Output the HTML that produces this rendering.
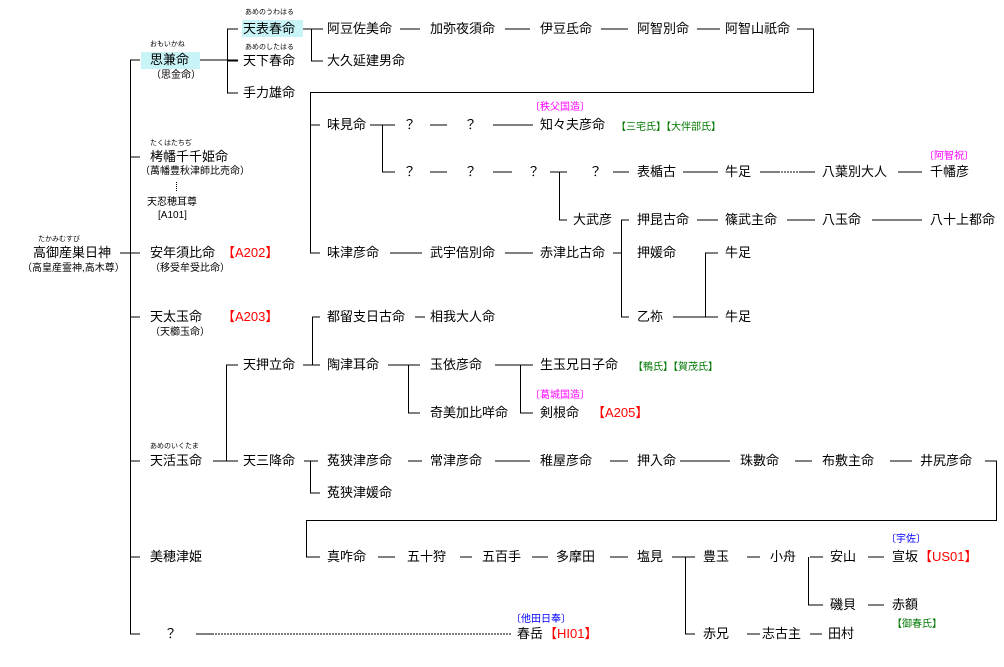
<!DOCTYPE html>
<html><head><meta charset="utf-8">
<style>
html,body{margin:0;padding:0;background:#fff;}
#c{position:relative;width:1004px;height:667px;overflow:hidden;font-family:"Liberation Sans","Noto Sans CJK JP",sans-serif;color:#000;}
.t{position:absolute;font-size:13px;line-height:16px;white-space:nowrap;}
.s{position:absolute;font-size:10px;line-height:12px;white-space:nowrap;}
.f{position:absolute;font-size:7px;line-height:8px;white-space:nowrap;}
.r{color:#f00;}.g{color:#070;}.m{color:#f0f;}.b{color:#00f;}
.hl{position:absolute;background:#c8f4f8;}
svg{position:absolute;left:0;top:0;}
</style></head><body><div id="c">
<div class="hl" style="left:242px;top:20px;width:61px;height:17px"></div>
<div class="hl" style="left:141px;top:52px;width:59px;height:17px"></div>
<svg width="1004" height="667" stroke="#000" stroke-width="1" fill="none" shape-rendering="crispEdges">
<path d="M130.5 60V634M130 60H140M130 157H140M130 253H140M130 317H140M130 461H140M130 557H140M130 634H140M120 253H130"/>
<path d="M200 60H238M227.5 29V93M227 29H238M227 61H238M227 93H238"/>
<path d="M303 29H323M311.5 29V61M311 61H323"/>
<path d="M400 29H420M505 29H530M601 29H628M697 29H720M797 29H813.5V92.5H310.5V253M310 125H320M310 253H320"/>
<path d="M370 125H395M382.5 125V172M382 172H395M430 125H447M493 125H533"/>
<path d="M430 172H447M493 172H512M550 172H567M559.5 172V220M559 220H567M613 172H629M683 172H718M760 172H778M800 172H815M898 172H922"/>
<path d="M621.5 220V317M621 220H629M621 317H629M697 220H718M787 220H815M872 220H922"/>
<path d="M390 253H422M505 253H533M613 253H621M673 317H705.5V253M705 253H718M705 317H718"/>
<path d="M415 317H425M213 461H238M226.5 365V461M226 365H238M303 365H312.5V317M312 317H320M312 365H320"/>
<path d="M388 365H420M408.5 365V413M408 413H420M495 365H533M520.5 365V413M520 413H533"/>
<path d="M304 461H318M310.5 461V493M310 493H320M408 461H422M495 461H530M610 461H628M680 461H730M795 461H812M890 461H912M985 461H996.5V520.5H306.5V557M306 557H320"/>
<path d="M378 557H395M460 557H472M532 557H548M610 557H628M672 557H695M685.5 557V634M685 634H695M747 557H760M810 557H823M808.5 557V605M808 605H823M868 557H884M868 605H884"/>
<path d="M196 634H212M747 634H760M810 634H822"/>
<path d="M176.5 182V192" stroke-dasharray="1,1"/>
<path d="M778 172H800M212 634H512" stroke-dasharray="2,1"/>
</svg>
<div class="f" style="left:245px;top:9px">あめのうわはる</div>
<div class="t" style="left:243px;top:21px">天表春命</div>
<div class="f" style="left:150px;top:41px">おもいかね</div>
<div class="t" style="left:150px;top:52px">思兼命</div>
<div class="s" style="left:151px;top:70px">（思金命）</div>
<div class="f" style="left:245px;top:44px">あめのしたはる</div>
<div class="t" style="left:243px;top:53px">天下春命</div>
<div class="t" style="left:243px;top:85px">手力雄命</div>
<div class="t" style="left:327px;top:21px">阿豆佐美命</div>
<div class="t" style="left:430px;top:21px">加弥夜須命</div>
<div class="t" style="left:540px;top:21px">伊豆氐命</div>
<div class="t" style="left:637px;top:21px">阿智別命</div>
<div class="t" style="left:725px;top:21px">阿智山祇命</div>
<div class="t" style="left:327px;top:53px">大久延建男命</div>

<div class="t" style="left:327px;top:117px">味見命</div>
<div class="t" style="left:403px;top:117px">？</div>
<div class="t" style="left:464px;top:117px">？</div>
<div class="s m" style="left:530px;top:102px">〔秩父国造〕</div>
<div class="t" style="left:540px;top:117px">知々夫彦命</div>
<div class="s g" style="left:616px;top:122px">【三宅氏】【大伴部氏】</div>

<div class="t" style="left:403px;top:164px">？</div>
<div class="t" style="left:464px;top:164px">？</div>
<div class="t" style="left:527px;top:164px">？</div>
<div class="t" style="left:589px;top:164px">？</div>
<div class="t" style="left:637px;top:164px">表楯古</div>
<div class="t" style="left:725px;top:164px">牛足</div>
<div class="t" style="left:822px;top:164px">八葉別大人</div>
<div class="s m" style="left:924px;top:151px">〔阿智祝〕</div>
<div class="t" style="left:930px;top:164px">千幡彦</div>

<div class="f" style="left:150px;top:140px">たくはたちぢ</div>
<div class="t" style="left:150px;top:149px">栲幡千千姫命</div>
<div class="s" style="left:140px;top:166px">（萬幡豊秋津師比売命）</div>
<div class="s" style="left:147px;top:197px">天忍穂耳尊</div>
<div class="s" style="left:158px;top:210px">[A101]</div>

<div class="t" style="left:573px;top:212px">大武彦</div>
<div class="t" style="left:637px;top:212px">押昆古命</div>
<div class="t" style="left:725px;top:212px">篠武主命</div>
<div class="t" style="left:822px;top:212px">八玉命</div>
<div class="t" style="left:930px;top:212px">八十上都命</div>

<div class="f" style="left:38px;top:236px">たかみむすび</div>
<div class="t" style="left:33px;top:245px">高御産巣日神</div>
<div class="s" style="left:22px;top:263px">（高皇産霊神,高木尊）</div>
<div class="t" style="left:150px;top:245px">安年須比命</div>
<div class="t r" style="left:222px;top:245px">【A202】</div>
<div class="s" style="left:150px;top:263px">（移受牟受比命）</div>
<div class="t" style="left:327px;top:245px">味津彦命</div>
<div class="t" style="left:430px;top:245px">武宇倍別命</div>
<div class="t" style="left:540px;top:245px">赤津比古命</div>
<div class="t" style="left:637px;top:245px">押媛命</div>
<div class="t" style="left:725px;top:245px">牛足</div>

<div class="t" style="left:150px;top:309px">天太玉命</div>
<div class="t r" style="left:222px;top:309px">【A203】</div>
<div class="s" style="left:150px;top:327px">（天櫛玉命）</div>
<div class="t" style="left:327px;top:309px">都留支日古命</div>
<div class="t" style="left:430px;top:309px">相我大人命</div>
<div class="t" style="left:637px;top:309px">乙祢</div>
<div class="t" style="left:725px;top:309px">牛足</div>

<div class="t" style="left:243px;top:357px">天押立命</div>
<div class="t" style="left:327px;top:357px">陶津耳命</div>
<div class="t" style="left:430px;top:357px">玉依彦命</div>
<div class="t" style="left:540px;top:357px">生玉兄日子命</div>
<div class="s g" style="left:633px;top:362px">【鴨氏】【賀茂氏】</div>
<div class="s m" style="left:530px;top:390px">〔葛城国造〕</div>
<div class="t" style="left:430px;top:405px">奇美加比咩命</div>
<div class="t" style="left:540px;top:405px">剣根命</div>
<div class="t r" style="left:592px;top:405px">【A205】</div>

<div class="f" style="left:150px;top:443px">あめのいくたま</div>
<div class="t" style="left:150px;top:453px">天活玉命</div>
<div class="t" style="left:243px;top:453px">天三降命</div>
<div class="t" style="left:327px;top:453px">菟狭津彦命</div>
<div class="t" style="left:430px;top:453px">常津彦命</div>
<div class="t" style="left:540px;top:453px">稚屋彦命</div>
<div class="t" style="left:637px;top:453px">押入命</div>
<div class="t" style="left:740px;top:453px">珠數命</div>
<div class="t" style="left:822px;top:453px">布敷主命</div>
<div class="t" style="left:920px;top:453px">井尻彦命</div>
<div class="t" style="left:327px;top:485px">菟狭津媛命</div>

<div class="t" style="left:150px;top:549px">美穂津姫</div>
<div class="t" style="left:327px;top:549px">真咋命</div>
<div class="t" style="left:407px;top:549px">五十狩</div>
<div class="t" style="left:482px;top:549px">五百手</div>
<div class="t" style="left:556px;top:549px">多摩田</div>
<div class="t" style="left:637px;top:549px">塩見</div>
<div class="t" style="left:703px;top:549px">豊玉</div>
<div class="t" style="left:770px;top:549px">小舟</div>
<div class="t" style="left:830px;top:549px">安山</div>
<div class="s b" style="left:886px;top:534px">〔宇佐〕</div>
<div class="t" style="left:892px;top:549px">宣坂</div>
<div class="t r" style="left:919px;top:549px">【US01】</div>
<div class="t" style="left:830px;top:597px">磯貝</div>
<div class="t" style="left:892px;top:597px">赤額</div>
<div class="s g" style="left:892px;top:619px">【御春氏】</div>

<div class="t" style="left:164px;top:626px">？</div>
<div class="s b" style="left:511px;top:614px">〔他田日奉〕</div>
<div class="t" style="left:517px;top:626px">春岳</div>
<div class="t r" style="left:544px;top:626px">【HI01】</div>
<div class="t" style="left:703px;top:626px">赤兄</div>
<div class="t" style="left:762px;top:626px">志古主</div>
<div class="t" style="left:828px;top:626px">田村</div>
</div></body></html>
